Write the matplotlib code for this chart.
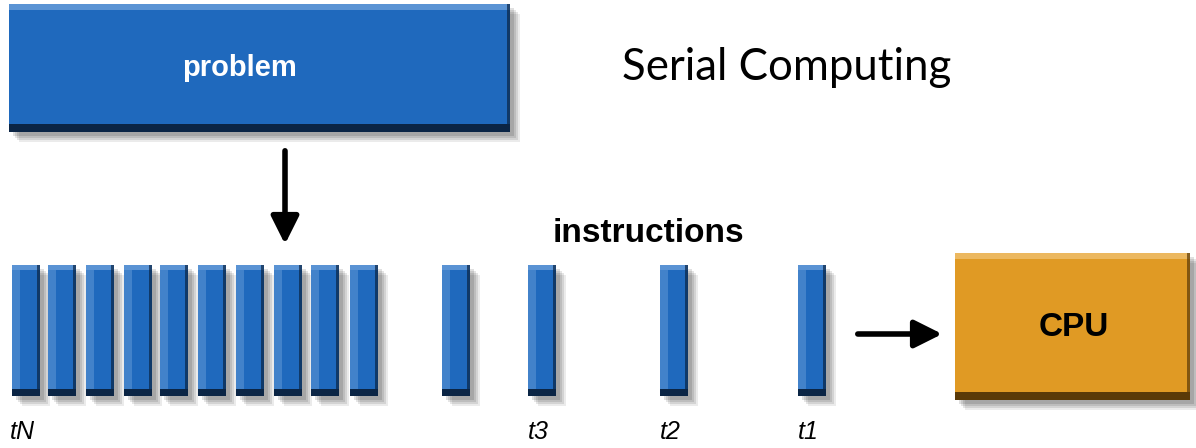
import matplotlib
matplotlib.use("Agg")
import matplotlib.pyplot as plt
from matplotlib.patches import Rectangle

# instruction bars (left edge in px), top/bottom shared
bar_left = [12, 48, 86, 124, 160, 198, 236, 274, 311, 350, 442, 528, 660, 798]
bar_width = 28
bar_top, bar_bottom = 265, 396

time_labels = ["tN", "t3", "t2", "t1"]
time_label_x = [10, 528, 660, 798]

problem_box = (9, 4, 510, 132)
cpu_box = (955, 253, 1190, 400)

BLUE = "#1f69bd"
BLUE_LIGHT = "#5a93d4"
BLUE_DARK = "#0b2545"
ORANGE = "#e09a24"
ORANGE_LIGHT = "#ecb860"
ORANGE_DARK = "#5a3a08"


def draw_block(ax, x0, y0, x1, y1, color, light, dark, bevel=5, left_strip=0):
    # soft drop shadow
    for i, a in enumerate([0.08, 0.10, 0.10, 0.12]):
        off = 10 - 2 * i
        ax.add_patch(Rectangle((x0 + off, y0 + off), x1 - x0, y1 - y0,
                               color="#000000", alpha=a, lw=0, zorder=1))
    ax.add_patch(Rectangle((x0, y0), x1 - x0, y1 - y0, color=color, lw=0, zorder=2))
    if left_strip:
        ax.add_patch(Rectangle((x0, y0), left_strip, y1 - y0, color=light, alpha=0.6, lw=0, zorder=3))
    ax.add_patch(Rectangle((x0, y0), x1 - x0, bevel, color=light, lw=0, zorder=3))
    ax.add_patch(Rectangle((x0, y1 - bevel - 2), x1 - x0, bevel + 2, color=dark, lw=0, zorder=3))
    ax.add_patch(Rectangle((x1 - 3, y0), 3, y1 - y0, color=dark, alpha=0.7, lw=0, zorder=3))


fig = plt.figure(figsize=(11.96, 4.48), dpi=100)
ax = fig.add_axes([0, 0, 1, 1])
ax.set_xlim(0, 1196)
ax.set_ylim(448, 0)
ax.axis("off")

# problem box
draw_block(ax, *problem_box, BLUE, BLUE_LIGHT, BLUE_DARK, bevel=6)
ax.text(239, 68, "problem", color="white",
        fontsize=21, fontweight="bold", family="Liberation Sans",
        ha="center", va="center", zorder=5)

ax.text(622, 68, "Serial Computing", fontsize=31.5, family="Lato",
        ha="left", va="center", color="black")

# arrow down from problem to instruction queue
ax.annotate("", xy=(285, 247), xytext=(285, 148),
            arrowprops=dict(arrowstyle="-|>", lw=4, color="black", mutation_scale=42))

ax.text(648, 234, "instructions", fontsize=24, fontweight="bold",
        family="Liberation Sans", ha="center", va="center")

for x in bar_left:
    draw_block(ax, x, bar_top, x + bar_width, bar_bottom, BLUE, BLUE_LIGHT, BLUE_DARK,
               bevel=5, left_strip=8)

for lab, x in zip(time_labels, time_label_x):
    ax.text(x, 432, lab, fontsize=18, style="italic", family="Liberation Sans",
            ha="left", va="center")

# arrow to CPU
ax.annotate("", xy=(945, 334), xytext=(855, 334),
            arrowprops=dict(arrowstyle="-|>", lw=4, color="black", mutation_scale=42))

draw_block(ax, *cpu_box, ORANGE, ORANGE_LIGHT, ORANGE_DARK, bevel=6)
ax.text(1074, 327, "CPU", fontsize=24, fontweight="bold",
        family="Liberation Sans", ha="center", va="center", zorder=5)

fig.savefig("out.png", dpi=100)
